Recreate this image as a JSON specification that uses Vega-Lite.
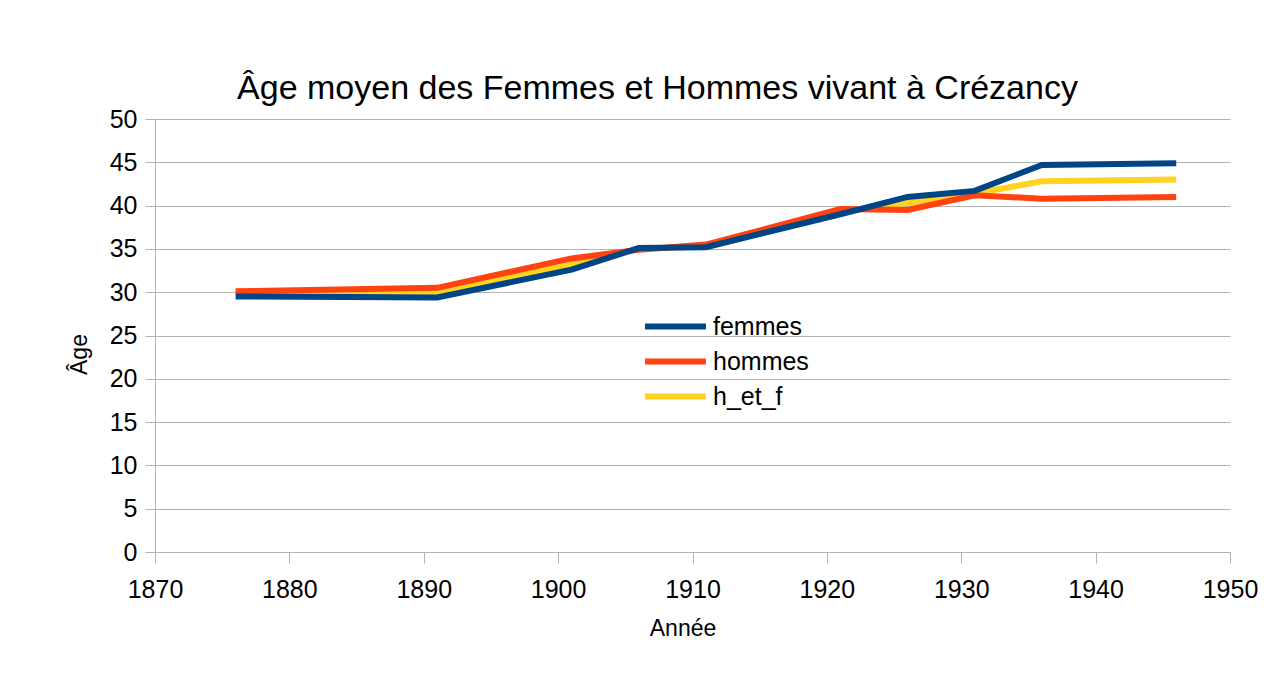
{
  "$schema": "https://vega.github.io/schema/vega-lite/v6.json",
  "width": 1075,
  "height": 433,
  "autosize": {"type": "none"},
  "padding": {"left": 155, "top": 119, "right": 54, "bottom": 132},
  "background": "white",
  "title": {
    "text": "Âge moyen des Femmes et Hommes vivant à Crézancy",
    "font": "Liberation Sans",
    "fontSize": 34,
    "fontWeight": "normal",
    "color": "#000000",
    "anchor": "middle",
    "frame": "group",
    "dx": -35,
    "dy": 44,
    "baseline": "alphabetic",
    "offset": 18
  },
  "config": {
    "view": {"stroke": null},
    "axis": {
      "labelFont": "Liberation Sans",
      "labelFontSize": 25,
      "labelColor": "#000000",
      "titleFont": "Liberation Sans",
      "titleFontSize": 23,
      "titleFontWeight": "normal",
      "titleColor": "#000000",
      "domainColor": "#b3b3b3",
      "tickColor": "#b3b3b3",
      "gridColor": "#b3b3b3",
      "domainWidth": 1,
      "tickWidth": 1,
      "gridWidth": 1
    }
  },
  "data": {
    "values": [
      {"annee": 1876, "serie": "femmes", "age": 29.5},
      {"annee": 1891, "serie": "femmes", "age": 29.4},
      {"annee": 1901, "serie": "femmes", "age": 32.6},
      {"annee": 1906, "serie": "femmes", "age": 35.1},
      {"annee": 1911, "serie": "femmes", "age": 35.2},
      {"annee": 1921, "serie": "femmes", "age": 39.0},
      {"annee": 1926, "serie": "femmes", "age": 41.0},
      {"annee": 1931, "serie": "femmes", "age": 41.7},
      {"annee": 1936, "serie": "femmes", "age": 44.7},
      {"annee": 1946, "serie": "femmes", "age": 44.9},
      {"annee": 1876, "serie": "hommes", "age": 30.1},
      {"annee": 1891, "serie": "hommes", "age": 30.5},
      {"annee": 1901, "serie": "hommes", "age": 33.9},
      {"annee": 1906, "serie": "hommes", "age": 34.9},
      {"annee": 1911, "serie": "hommes", "age": 35.5},
      {"annee": 1921, "serie": "hommes", "age": 39.6},
      {"annee": 1926, "serie": "hommes", "age": 39.5},
      {"annee": 1931, "serie": "hommes", "age": 41.2},
      {"annee": 1936, "serie": "hommes", "age": 40.8},
      {"annee": 1946, "serie": "hommes", "age": 41.0},
      {"annee": 1876, "serie": "h_et_f", "age": 29.9},
      {"annee": 1891, "serie": "h_et_f", "age": 29.9},
      {"annee": 1901, "serie": "h_et_f", "age": 33.2},
      {"annee": 1906, "serie": "h_et_f", "age": 35.0},
      {"annee": 1911, "serie": "h_et_f", "age": 35.3},
      {"annee": 1921, "serie": "h_et_f", "age": 39.3},
      {"annee": 1926, "serie": "h_et_f", "age": 40.3},
      {"annee": 1931, "serie": "h_et_f", "age": 41.4},
      {"annee": 1936, "serie": "h_et_f", "age": 42.8},
      {"annee": 1946, "serie": "h_et_f", "age": 43.0}
    ]
  },
  "encoding": {
    "x": {
      "field": "annee",
      "type": "quantitative",
      "scale": {"domain": [1870, 1950], "nice": false, "zero": false},
      "axis": {
        "title": "Année",
        "values": [1870, 1880, 1890, 1900, 1910, 1920, 1930, 1940, 1950],
        "format": "d",
        "grid": false,
        "tickSize": 11,
        "labelBaseline": "alphabetic",
        "labelPadding": 34,
        "labelFlush": false,
        "labelOverlap": false,
        "titleX": 527.5,
        "titleY": 83,
        "titleBaseline": "alphabetic",
        "titleAlign": "center",
        "titleAnchor": null
      }
    },
    "y": {
      "field": "age",
      "type": "quantitative",
      "scale": {"domain": [0, 50], "nice": false},
      "axis": {
        "title": "Âge",
        "values": [0, 5, 10, 15, 20, 25, 30, 35, 40, 45, 50],
        "grid": true,
        "tickSize": 10,
        "labelPadding": 8,
        "labelFlush": false,
        "labelOverlap": false,
        "titleAngle": -90,
        "titleX": -69,
        "titleY": 235,
        "titleBaseline": "alphabetic",
        "titleAlign": "center",
        "titleAnchor": null
      }
    },
    "color": {
      "field": "serie",
      "type": "nominal",
      "scale": {"domain": ["femmes", "hommes", "h_et_f"], "range": ["#004586", "#ff420e", "#ffd320"]},
      "legend": {
        "title": null,
        "orient": "none",
        "legendX": 508,
        "legendY": 195,
        "padding": 0,
        "symbolType": "M-6,0H6",
        "symbolSize": 103,
        "symbolStrokeWidth": 6,
        "labelFont": "Liberation Sans",
        "labelFontSize": 25,
        "labelColor": "#000000",
        "labelOffset": 25,
        "rowPadding": 9
      }
    }
  },
  "layer": [
    {"transform": [{"filter": "datum.serie === 'h_et_f'"}], "mark": {"type": "line", "strokeWidth": 6, "strokeCap": "butt"}},
    {"transform": [{"filter": "datum.serie === 'hommes'"}], "mark": {"type": "line", "strokeWidth": 6, "strokeCap": "butt"}},
    {"transform": [{"filter": "datum.serie === 'femmes'"}], "mark": {"type": "line", "strokeWidth": 6, "strokeCap": "butt"}}
  ]
}
